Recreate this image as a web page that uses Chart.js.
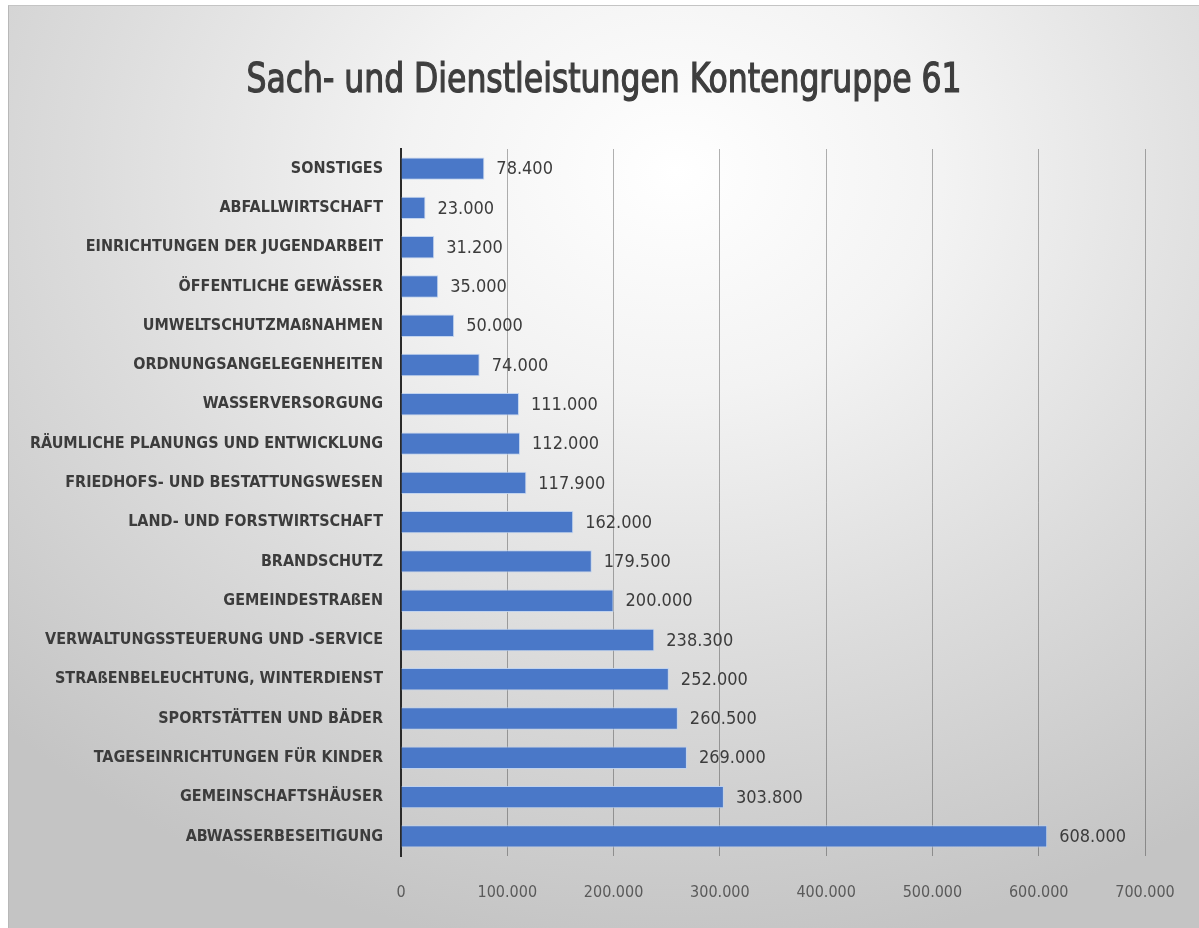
<!DOCTYPE html>
<html lang="de">
<head>
<meta charset="utf-8">
<title>Sach- und Dienstleistungen Kontengruppe 61</title>
<script src="https://cdn.jsdelivr.net/npm/chart.js@4/dist/chart.umd.min.js"></script>
<style>
  html, body { margin: 0; padding: 0; background: #fff; }
  #frame {
    position: absolute; left: 8px; top: 5px;
    width: 1190px; height: 922px;
    border-left: 1px solid #b8b8b8; border-top: 1px solid #c4c4c4;
    background: radial-gradient(ellipse 80% 85% at 56% 18%, #ffffff 0%, #f3f3f3 28%, #dcdcdc 62%, #c4c4c4 100%);
  }
  canvas { display: block; }
</style>
</head>
<body>
<div id="frame"><canvas id="chart" width="1190" height="922"></canvas></div>
<script>
const chartTitle = "Sach- und Dienstleistungen Kontengruppe 61";
const categories = [
  "SONSTIGES",
  "ABFALLWIRTSCHAFT",
  "EINRICHTUNGEN DER JUGENDARBEIT",
  "ÖFFENTLICHE GEWÄSSER",
  "UMWELTSCHUTZMAßNAHMEN",
  "ORDNUNGSANGELEGENHEITEN",
  "WASSERVERSORGUNG",
  "RÄUMLICHE PLANUNGS UND ENTWICKLUNG",
  "FRIEDHOFS- UND BESTATTUNGSWESEN",
  "LAND- UND FORSTWIRTSCHAFT",
  "BRANDSCHUTZ",
  "GEMEINDESTRAßEN",
  "VERWALTUNGSSTEUERUNG UND -SERVICE",
  "STRAßENBELEUCHTUNG, WINTERDIENST",
  "SPORTSTÄTTEN UND BÄDER",
  "TAGESEINRICHTUNGEN FÜR KINDER",
  "GEMEINSCHAFTSHÄUSER",
  "ABWASSERBESEITIGUNG"
];
const values = [78400, 23000, 31200, 35000, 50000, 74000, 111000, 112000, 117900,
  162000, 179500, 200000, 238300, 252000, 260500, 269000, 303800, 608000];
const axisMin = 0;
const axisMax = 700000;
const axisStep = 100000;

const narrow = "'Liberation Sans Narrow', 'DejaVu Sans Condensed', sans-serif";

// 100000 -> "100.000"
function fmt(v) {
  return String(v).replace(/\B(?=(\d{3})+(?!\d))/g, ".");
}

// title, squeezed a little to look like the condensed original
const titlePlugin = {
  id: "condensedTitle",
  afterDraw(chart) {
    const ctx = chart.ctx;
    ctx.save();
    ctx.font = "40px " + narrow;
    ctx.fillStyle = "#3e3e3e";
    ctx.strokeStyle = "#3e3e3e";
    ctx.lineWidth = 1.2;
    ctx.textAlign = "center";
    ctx.textBaseline = "alphabetic";
    const w = ctx.measureText(chartTitle).width;
    const sx = Math.min(1, 715 / w);
    ctx.translate(chart.width / 2, 86);
    ctx.scale(sx, 1);
    ctx.fillText(chartTitle, 0, 0);
    ctx.strokeText(chartTitle, 0, 0);
    ctx.restore();
  }
};

// value labels at the end of each bar
const valueLabels = {
  id: "valueLabels",
  afterDatasetsDraw(chart) {
    const ctx = chart.ctx;
    const meta = chart.getDatasetMeta(0);
    ctx.save();
    ctx.font = "18px " + narrow;
    ctx.fillStyle = "#3c3c3c";
    ctx.textAlign = "left";
    ctx.textBaseline = "middle";
    meta.data.forEach((bar, i) => {
      ctx.fillText(fmt(values[i]), bar.x + 12, bar.y + 1);
    });
    ctx.restore();
  }
};

new Chart(document.getElementById("chart"), {
  type: "bar",
  data: {
    labels: categories,
    datasets: [{
      data: values,
      backgroundColor: "#4a78c8",
      borderColor: "rgba(190,210,240,0.9)",
      borderWidth: 1,
      barPercentage: 0.57,
      categoryPercentage: 1
    }]
  },
  plugins: [titlePlugin, valueLabels],
  options: {
    indexAxis: "y",
    responsive: false,
    animation: false,
    devicePixelRatio: 1,
    layout: { padding: { top: 143 } },
    plugins: {
      legend: { display: false },
      tooltip: { enabled: false },
      title: { display: false }
    },
    scales: {
      x: {
        min: axisMin,
        max: axisMax,
        ticks: {
          stepSize: axisStep,
          color: "#5a5a5a",
          font: { family: narrow, size: 16 },
          padding: 27,
          maxRotation: 0,
          callback: v => fmt(v)
        },
        grid: { color: "rgba(0,0,0,0.3)", lineWidth: 1, drawTicks: false },
        border: { display: false },
        afterFit: s => { s.height = 72; s.paddingRight = 54; }
      },
      y: {
        ticks: {
          color: "#3c3c3c",
          font: { family: narrow, size: 16, weight: "bold" },
          padding: 18,
          autoSkip: false
        },
        grid: { display: false, drawTicks: false },
        border: { display: true, color: "#2a2a2a", width: 2 },
        afterFit: s => { s.width = 392; }
      }
    }
  }
});
</script>
</body>
</html>
